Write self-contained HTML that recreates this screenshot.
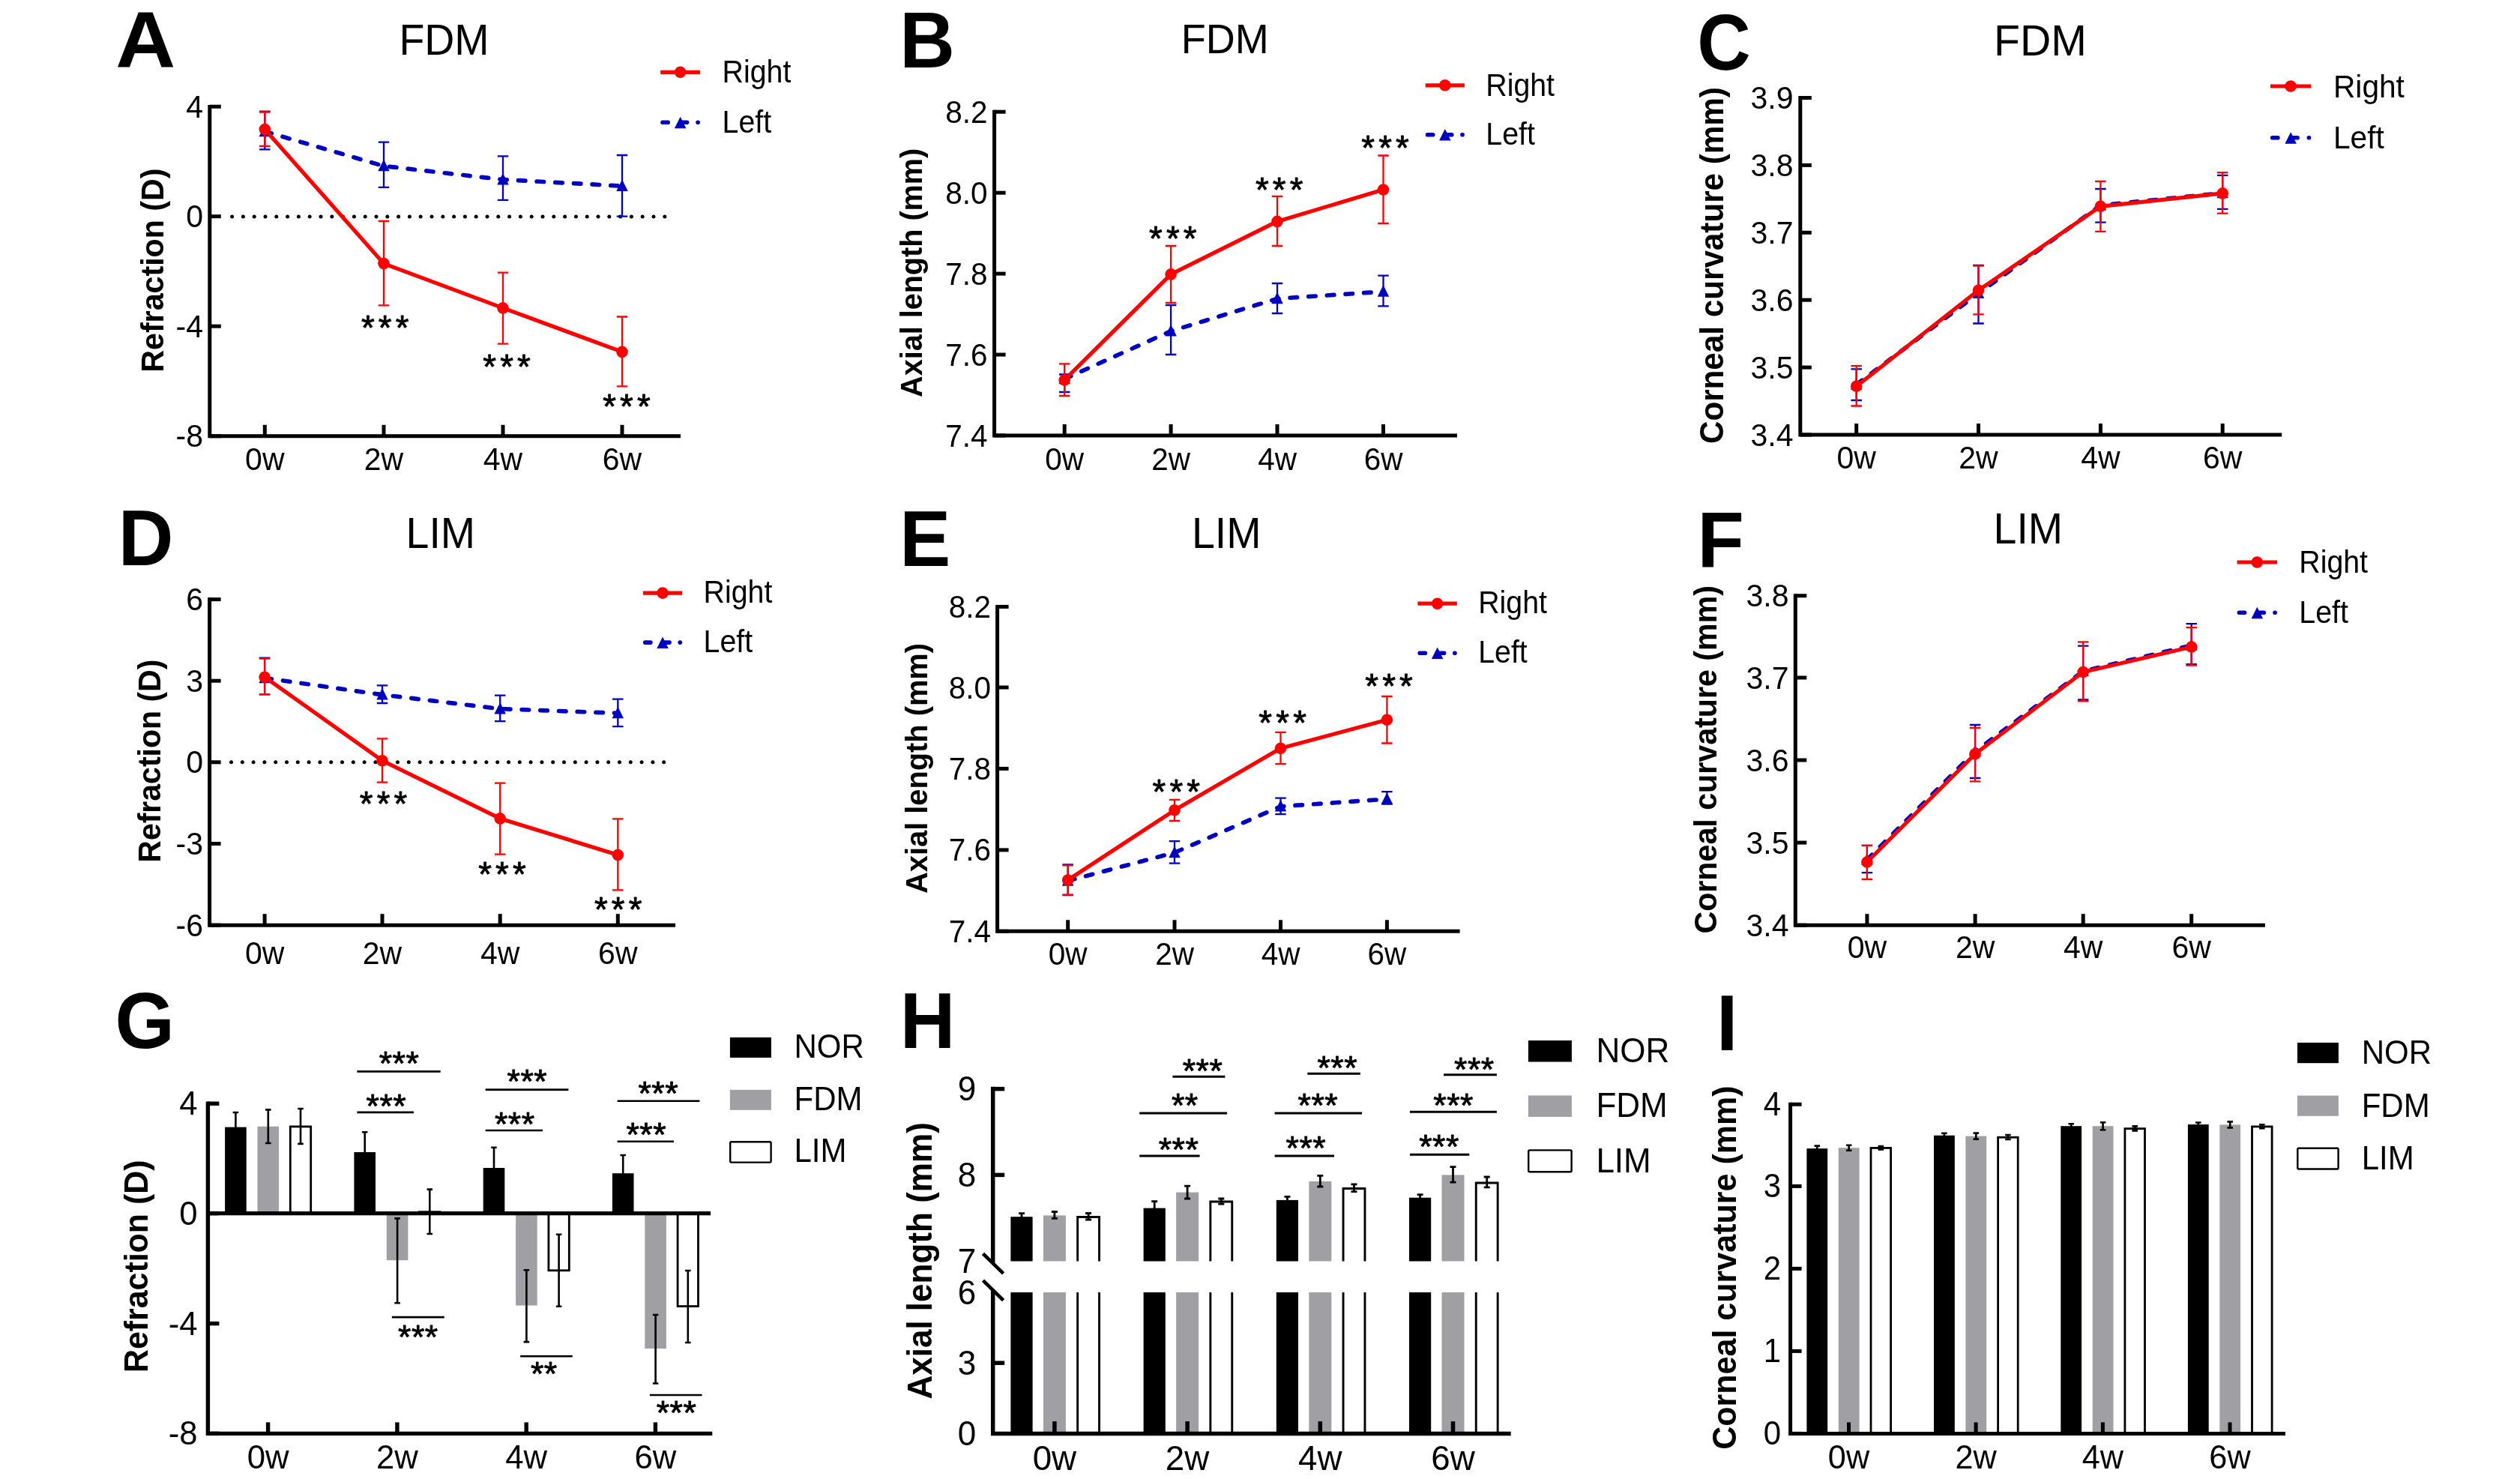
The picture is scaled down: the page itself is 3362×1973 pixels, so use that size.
<!DOCTYPE html>
<html lang="en">
<head>
<meta charset="utf-8">
<title>Refraction, axial length and corneal curvature in FDM and LIM</title>
<style>
html,body{margin:0;padding:0;background:#fff;}
body{width:3362px;height:1973px;overflow:hidden;}
svg{display:block;will-change:transform;font-family:"Liberation Sans",sans-serif;fill:#000;}
</style>
</head>
<body>
<svg xmlns="http://www.w3.org/2000/svg" width="3362" height="1973" viewBox="0 0 3362 1973">
<rect x="0" y="0" width="3362" height="1973" fill="#fff"/>
<g>
<text transform="translate(154.3,90.3) scale(1.09,1.04)" font-size="101.5" font-weight="bold">A</text>
<text transform="translate(592.5,72.6) scale(1,1.04)" font-size="55.5" text-anchor="middle">FDM</text>
<path d="M279.8 140.1V581.8H908" stroke="#000" stroke-width="5" fill="none" stroke-linejoin="miter"/>
<line x1="279.8" y1="142.2" x2="294.8" y2="142.2" stroke="#000" stroke-width="5"/>
<text transform="translate(271,156.88) scale(1,1.04)" font-size="41" text-anchor="end">4</text>
<line x1="279.8" y1="288.7" x2="294.8" y2="288.7" stroke="#000" stroke-width="5"/>
<text transform="translate(271,303.38) scale(1,1.04)" font-size="41" text-anchor="end">0</text>
<line x1="279.8" y1="435.2" x2="294.8" y2="435.2" stroke="#000" stroke-width="5"/>
<text transform="translate(271,449.88) scale(1,1.04)" font-size="41" text-anchor="end">-4</text>
<line x1="279.8" y1="581.8" x2="294.8" y2="581.8" stroke="#000" stroke-width="5"/>
<text transform="translate(271,596.48) scale(1,1.04)" font-size="41" text-anchor="end">-8</text>
<line x1="353.3" y1="581.8" x2="353.3" y2="566.8" stroke="#000" stroke-width="5"/>
<text transform="translate(353.3,627.3) scale(1,1.04)" font-size="41" text-anchor="middle">0w</text>
<line x1="512" y1="581.8" x2="512" y2="566.8" stroke="#000" stroke-width="5"/>
<text transform="translate(512,627.3) scale(1,1.04)" font-size="41" text-anchor="middle">2w</text>
<line x1="671" y1="581.8" x2="671" y2="566.8" stroke="#000" stroke-width="5"/>
<text transform="translate(671,627.3) scale(1,1.04)" font-size="41" text-anchor="middle">4w</text>
<line x1="830" y1="581.8" x2="830" y2="566.8" stroke="#000" stroke-width="5"/>
<text transform="translate(830,627.3) scale(1,1.04)" font-size="41" text-anchor="middle">6w</text>
<text transform="translate(218.4,360.6) rotate(-90) scale(1,1.04)" font-size="41.2" text-anchor="middle" font-weight="bold">Refraction (D)</text>
<line x1="309.6" y1="288.9" x2="896" y2="288.9" stroke="#000" stroke-width="5" stroke-linecap="round" stroke-dasharray="0 14.8"/>
<path d="M353.3 148.7V199.3M346.05 148.7h14.5M346.05 199.3h14.5" stroke="#0000c0" stroke-width="2.3" fill="none"/>
<path d="M512 189.6V249.9M504.75 189.6h14.5M504.75 249.9h14.5" stroke="#0000c0" stroke-width="2.3" fill="none"/>
<path d="M671 208.4V266.8M663.75 208.4h14.5M663.75 266.8h14.5" stroke="#0000c0" stroke-width="2.3" fill="none"/>
<path d="M830 207V288.7M822.75 207h14.5M822.75 288.7h14.5" stroke="#0000c0" stroke-width="2.3" fill="none"/>
<polyline points="353.3,175.4 512,221.5 671,239.6 830,248.1" fill="none" stroke="#0000c0" stroke-width="5.7" stroke-dasharray="9.4 15.3" stroke-linecap="round" stroke-linejoin="round"/>
<path d="M353.3 166.72L361.05 182.22L345.55 182.22Z" fill="#0000c0"/>
<path d="M512 212.82L519.75 228.32L504.25 228.32Z" fill="#0000c0"/>
<path d="M671 230.92L678.75 246.42L663.25 246.42Z" fill="#0000c0"/>
<path d="M830 239.42L837.75 254.92L822.25 254.92Z" fill="#0000c0"/>
<path d="M353.3 149.5V195M346.05 149.5h14.5M346.05 195h14.5" stroke="#ff0000" stroke-width="2.3" fill="none"/>
<path d="M512 295V407.4M504.75 295h14.5M504.75 407.4h14.5" stroke="#ff0000" stroke-width="2.3" fill="none"/>
<path d="M671 363.6V458.7M663.75 363.6h14.5M663.75 458.7h14.5" stroke="#ff0000" stroke-width="2.3" fill="none"/>
<path d="M830 422.5V515.3M822.75 422.5h14.5M822.75 515.3h14.5" stroke="#ff0000" stroke-width="2.3" fill="none"/>
<polyline points="353.3,172.5 512,351.6 671,410.9 830,469.4" fill="none" stroke="#ff0000" stroke-width="5.2" stroke-linejoin="round"/>
<circle cx="353.3" cy="172.5" r="7.8" fill="#ff0000"/>
<circle cx="512" cy="351.6" r="7.8" fill="#ff0000"/>
<circle cx="671" cy="410.9" r="7.8" fill="#ff0000"/>
<circle cx="830" cy="469.4" r="7.8" fill="#ff0000"/>
<text transform="translate(516.3,452.82) scale(1,1)" font-size="45.5" text-anchor="middle" letter-spacing="5.2" stroke="#000" stroke-width="0.9" stroke-linejoin="round">***</text>
<text transform="translate(678.6,504.72) scale(1,1)" font-size="45.5" text-anchor="middle" letter-spacing="5.2" stroke="#000" stroke-width="0.9" stroke-linejoin="round">***</text>
<text transform="translate(838.5,558.32) scale(1,1)" font-size="45.5" text-anchor="middle" letter-spacing="5.2" stroke="#000" stroke-width="0.9" stroke-linejoin="round">***</text>
<line x1="881.2" y1="96.3" x2="934" y2="96.3" stroke="#ff0000" stroke-width="5.2"/>
<circle cx="907.6" cy="96.3" r="7.8" fill="#ff0000"/>
<text transform="translate(963.6,109.6) scale(0.97,1.04)" font-size="40.5">Right</text>
<path d="M884 163.3h7.2M910.6 163.3h6M931 163.3h0.2" stroke="#0000c0" stroke-width="5.6" stroke-linecap="round" fill="none"/>
<path d="M907.6 155.72L915.35 171.22L899.85 171.22Z" fill="#0000c0"/>
<text transform="translate(963.6,176.6) scale(0.97,1.04)" font-size="40.5">Left</text>
</g>
<g>
<text transform="translate(1200.2,90) scale(1,1.04)" font-size="102" font-weight="bold">B</text>
<text transform="translate(1634.3,71.4) scale(1,1.04)" font-size="54" text-anchor="middle">FDM</text>
<path d="M1326.6 146.7V581H1944" stroke="#000" stroke-width="5" fill="none" stroke-linejoin="miter"/>
<line x1="1326.6" y1="149.2" x2="1341.6" y2="149.2" stroke="#000" stroke-width="5"/>
<text transform="translate(1317.5,163.7) scale(1,1.04)" font-size="40.5" text-anchor="end">8.2</text>
<line x1="1326.6" y1="257.2" x2="1341.6" y2="257.2" stroke="#000" stroke-width="5"/>
<text transform="translate(1317.5,271.7) scale(1,1.04)" font-size="40.5" text-anchor="end">8.0</text>
<line x1="1326.6" y1="365.1" x2="1341.6" y2="365.1" stroke="#000" stroke-width="5"/>
<text transform="translate(1317.5,379.6) scale(1,1.04)" font-size="40.5" text-anchor="end">7.8</text>
<line x1="1326.6" y1="473.1" x2="1341.6" y2="473.1" stroke="#000" stroke-width="5"/>
<text transform="translate(1317.5,487.6) scale(1,1.04)" font-size="40.5" text-anchor="end">7.6</text>
<line x1="1326.6" y1="581" x2="1341.6" y2="581" stroke="#000" stroke-width="5"/>
<text transform="translate(1317.5,595.5) scale(1,1.04)" font-size="40.5" text-anchor="end">7.4</text>
<line x1="1420.2" y1="581" x2="1420.2" y2="566" stroke="#000" stroke-width="5"/>
<text transform="translate(1420.2,627) scale(1,1.04)" font-size="40.5" text-anchor="middle">0w</text>
<line x1="1562.1" y1="581" x2="1562.1" y2="566" stroke="#000" stroke-width="5"/>
<text transform="translate(1562.1,627) scale(1,1.04)" font-size="40.5" text-anchor="middle">2w</text>
<line x1="1704" y1="581" x2="1704" y2="566" stroke="#000" stroke-width="5"/>
<text transform="translate(1704,627) scale(1,1.04)" font-size="40.5" text-anchor="middle">4w</text>
<line x1="1845.5" y1="581" x2="1845.5" y2="566" stroke="#000" stroke-width="5"/>
<text transform="translate(1845.5,627) scale(1,1.04)" font-size="40.5" text-anchor="middle">6w</text>
<text transform="translate(1230.4,363.9) rotate(-90) scale(1,1.04)" font-size="39.6" text-anchor="middle" font-weight="bold">Axial length (mm)</text>
<path d="M1420.2 499.5V523M1412.95 499.5h14.5M1412.95 523h14.5" stroke="#0000c0" stroke-width="2.3" fill="none"/>
<path d="M1562.1 407V473M1554.85 407h14.5M1554.85 473h14.5" stroke="#0000c0" stroke-width="2.3" fill="none"/>
<path d="M1704 378V418M1696.75 378h14.5M1696.75 418h14.5" stroke="#0000c0" stroke-width="2.3" fill="none"/>
<path d="M1845.5 367.7V408.3M1838.25 367.7h14.5M1838.25 408.3h14.5" stroke="#0000c0" stroke-width="2.3" fill="none"/>
<polyline points="1420.2,505.5 1562.1,441.7 1704,398.4 1845.5,389" fill="none" stroke="#0000c0" stroke-width="5.7" stroke-dasharray="9.4 15.3" stroke-linecap="round" stroke-linejoin="round"/>
<path d="M1420.2 496.82L1427.95 512.32L1412.45 512.32Z" fill="#0000c0"/>
<path d="M1562.1 433.02L1569.85 448.52L1554.35 448.52Z" fill="#0000c0"/>
<path d="M1704 389.72L1711.75 405.22L1696.25 405.22Z" fill="#0000c0"/>
<path d="M1845.5 380.32L1853.25 395.82L1837.75 395.82Z" fill="#0000c0"/>
<path d="M1420.2 485.3V528M1412.95 485.3h14.5M1412.95 528h14.5" stroke="#ff0000" stroke-width="2.3" fill="none"/>
<path d="M1562.1 328V403.8M1554.85 328h14.5M1554.85 403.8h14.5" stroke="#ff0000" stroke-width="2.3" fill="none"/>
<path d="M1704 261.9V328M1696.75 261.9h14.5M1696.75 328h14.5" stroke="#ff0000" stroke-width="2.3" fill="none"/>
<path d="M1845.5 207.5V298M1838.25 207.5h14.5M1838.25 298h14.5" stroke="#ff0000" stroke-width="2.3" fill="none"/>
<polyline points="1420.2,506.9 1562.1,365.9 1704,295.4 1845.5,253" fill="none" stroke="#ff0000" stroke-width="5.2" stroke-linejoin="round"/>
<circle cx="1420.2" cy="506.9" r="7.8" fill="#ff0000"/>
<circle cx="1562.1" cy="365.9" r="7.8" fill="#ff0000"/>
<circle cx="1704" cy="295.4" r="7.8" fill="#ff0000"/>
<circle cx="1845.5" cy="253" r="7.8" fill="#ff0000"/>
<text transform="translate(1567.4,334.32) scale(1,1)" font-size="45.5" text-anchor="middle" letter-spacing="5.2" stroke="#000" stroke-width="0.9" stroke-linejoin="round">***</text>
<text transform="translate(1709.3,268.72) scale(1,1)" font-size="45.5" text-anchor="middle" letter-spacing="5.2" stroke="#000" stroke-width="0.9" stroke-linejoin="round">***</text>
<text transform="translate(1850.6,212.92) scale(1,1)" font-size="45.5" text-anchor="middle" letter-spacing="5.2" stroke="#000" stroke-width="0.9" stroke-linejoin="round">***</text>
<line x1="1901.7" y1="113.8" x2="1953.9" y2="113.8" stroke="#ff0000" stroke-width="5.2"/>
<circle cx="1927.8" cy="113.8" r="7.8" fill="#ff0000"/>
<text transform="translate(1982.3,127.5) scale(0.97,1.04)" font-size="40.5">Right</text>
<path d="M1904.5 179.7h7.2M1930.8 179.7h6M1950.9 179.7h0.2" stroke="#0000c0" stroke-width="5.6" stroke-linecap="round" fill="none"/>
<path d="M1927.8 172.12L1935.55 187.62L1920.05 187.62Z" fill="#0000c0"/>
<text transform="translate(1982.3,193.4) scale(0.97,1.04)" font-size="40.5">Left</text>
</g>
<g>
<text transform="translate(2264.2,92.5) scale(0.97,1.04)" font-size="102" font-weight="bold">C</text>
<text transform="translate(2722,74.3) scale(1.03,1.04)" font-size="55.5" text-anchor="middle">FDM</text>
<path d="M2401.8 128V580H3044.2" stroke="#000" stroke-width="5" fill="none" stroke-linejoin="miter"/>
<line x1="2401.8" y1="130.5" x2="2416.8" y2="130.5" stroke="#000" stroke-width="5"/>
<text transform="translate(2392.5,145.18) scale(1,1.04)" font-size="41" text-anchor="end">3.9</text>
<line x1="2401.8" y1="220.4" x2="2416.8" y2="220.4" stroke="#000" stroke-width="5"/>
<text transform="translate(2392.5,235.08) scale(1,1.04)" font-size="41" text-anchor="end">3.8</text>
<line x1="2401.8" y1="310.3" x2="2416.8" y2="310.3" stroke="#000" stroke-width="5"/>
<text transform="translate(2392.5,324.98) scale(1,1.04)" font-size="41" text-anchor="end">3.7</text>
<line x1="2401.8" y1="400.2" x2="2416.8" y2="400.2" stroke="#000" stroke-width="5"/>
<text transform="translate(2392.5,414.88) scale(1,1.04)" font-size="41" text-anchor="end">3.6</text>
<line x1="2401.8" y1="490.1" x2="2416.8" y2="490.1" stroke="#000" stroke-width="5"/>
<text transform="translate(2392.5,504.78) scale(1,1.04)" font-size="41" text-anchor="end">3.5</text>
<line x1="2401.8" y1="580" x2="2416.8" y2="580" stroke="#000" stroke-width="5"/>
<text transform="translate(2392.5,594.68) scale(1,1.04)" font-size="41" text-anchor="end">3.4</text>
<line x1="2476.7" y1="580" x2="2476.7" y2="565" stroke="#000" stroke-width="5"/>
<text transform="translate(2476.7,624.7) scale(1,1.04)" font-size="41" text-anchor="middle">0w</text>
<line x1="2639.5" y1="580" x2="2639.5" y2="565" stroke="#000" stroke-width="5"/>
<text transform="translate(2639.5,624.7) scale(1,1.04)" font-size="41" text-anchor="middle">2w</text>
<line x1="2802.4" y1="580" x2="2802.4" y2="565" stroke="#000" stroke-width="5"/>
<text transform="translate(2802.4,624.7) scale(1,1.04)" font-size="41" text-anchor="middle">4w</text>
<line x1="2965.2" y1="580" x2="2965.2" y2="565" stroke="#000" stroke-width="5"/>
<text transform="translate(2965.2,624.7) scale(1,1.04)" font-size="41" text-anchor="middle">6w</text>
<text transform="translate(2298.5,354.1) rotate(-90) scale(1,1.04)" font-size="42.2" text-anchor="middle" font-weight="bold">Corneal curvature (mm)</text>
<path d="M2476.7 492.4V534M2469.45 492.4h14.5M2469.45 534h14.5" stroke="#0000c0" stroke-width="2.3" fill="none"/>
<path d="M2639.5 353.8V431.5M2632.25 353.8h14.5M2632.25 431.5h14.5" stroke="#0000c0" stroke-width="2.3" fill="none"/>
<path d="M2802.4 252V296.7M2795.15 252h14.5M2795.15 296.7h14.5" stroke="#0000c0" stroke-width="2.3" fill="none"/>
<path d="M2965.2 233.8V278.9M2957.95 233.8h14.5M2957.95 278.9h14.5" stroke="#0000c0" stroke-width="2.3" fill="none"/>
<polyline points="2476.7,513 2639.5,391.3 2802.4,274 2965.2,257.5" fill="none" stroke="#0000c0" stroke-width="5.7" stroke-dasharray="9.4 15.3" stroke-linecap="round" stroke-linejoin="round"/>
<path d="M2476.7 504.32L2484.45 519.82L2468.95 519.82Z" fill="#0000c0"/>
<path d="M2639.5 382.62L2647.25 398.12L2631.75 398.12Z" fill="#0000c0"/>
<path d="M2802.4 265.32L2810.15 280.82L2794.65 280.82Z" fill="#0000c0"/>
<path d="M2965.2 248.82L2972.95 264.32L2957.45 264.32Z" fill="#0000c0"/>
<path d="M2476.7 488.2V541.5M2469.45 488.2h14.5M2469.45 541.5h14.5" stroke="#ff0000" stroke-width="2.3" fill="none"/>
<path d="M2639.5 354.7V419.4M2632.25 354.7h14.5M2632.25 419.4h14.5" stroke="#ff0000" stroke-width="2.3" fill="none"/>
<path d="M2802.4 241.8V308.8M2795.15 241.8h14.5M2795.15 308.8h14.5" stroke="#ff0000" stroke-width="2.3" fill="none"/>
<path d="M2965.2 230.2V284.7M2957.95 230.2h14.5M2957.95 284.7h14.5" stroke="#ff0000" stroke-width="2.3" fill="none"/>
<polyline points="2476.7,515.3 2639.5,387.3 2802.4,275.3 2965.2,257.9" fill="none" stroke="#ff0000" stroke-width="5.2" stroke-linejoin="round"/>
<circle cx="2476.7" cy="515.3" r="7.8" fill="#ff0000"/>
<circle cx="2639.5" cy="387.3" r="7.8" fill="#ff0000"/>
<circle cx="2802.4" cy="275.3" r="7.8" fill="#ff0000"/>
<circle cx="2965.2" cy="257.9" r="7.8" fill="#ff0000"/>
<line x1="3028.9" y1="115" x2="3083.3" y2="115" stroke="#ff0000" stroke-width="5.2"/>
<circle cx="3056.1" cy="115" r="7.8" fill="#ff0000"/>
<text transform="translate(3113,129.5) scale(0.98,1.04)" font-size="41.5">Right</text>
<path d="M3031.7 183.8h7.2M3059.1 183.8h6M3080.3 183.8h0.2" stroke="#0000c0" stroke-width="5.6" stroke-linecap="round" fill="none"/>
<path d="M3056.1 176.22L3063.85 191.72L3048.35 191.72Z" fill="#0000c0"/>
<text transform="translate(3113,198.3) scale(0.98,1.04)" font-size="41.5">Left</text>
</g>
<g>
<text transform="translate(157.7,754) scale(1,1.04)" font-size="102" font-weight="bold">D</text>
<text transform="translate(587.8,731.4) scale(1,1.04)" font-size="55.5" text-anchor="middle">LIM</text>
<path d="M279.6 797.1V1234.2H901" stroke="#000" stroke-width="5" fill="none" stroke-linejoin="miter"/>
<line x1="279.6" y1="799.6" x2="294.6" y2="799.6" stroke="#000" stroke-width="5"/>
<text transform="translate(271,814.28) scale(1,1.04)" font-size="41" text-anchor="end">6</text>
<line x1="279.6" y1="908.2" x2="294.6" y2="908.2" stroke="#000" stroke-width="5"/>
<text transform="translate(271,922.88) scale(1,1.04)" font-size="41" text-anchor="end">3</text>
<line x1="279.6" y1="1016.8" x2="294.6" y2="1016.8" stroke="#000" stroke-width="5"/>
<text transform="translate(271,1031.48) scale(1,1.04)" font-size="41" text-anchor="end">0</text>
<line x1="279.6" y1="1125.5" x2="294.6" y2="1125.5" stroke="#000" stroke-width="5"/>
<text transform="translate(271,1140.18) scale(1,1.04)" font-size="41" text-anchor="end">-3</text>
<line x1="279.6" y1="1234.2" x2="294.6" y2="1234.2" stroke="#000" stroke-width="5"/>
<text transform="translate(271,1248.88) scale(1,1.04)" font-size="41" text-anchor="end">-6</text>
<line x1="353.1" y1="1234.2" x2="353.1" y2="1219.2" stroke="#000" stroke-width="5"/>
<text transform="translate(353.1,1285.6) scale(1,1.04)" font-size="41" text-anchor="middle">0w</text>
<line x1="510" y1="1234.2" x2="510" y2="1219.2" stroke="#000" stroke-width="5"/>
<text transform="translate(510,1285.6) scale(1,1.04)" font-size="41" text-anchor="middle">2w</text>
<line x1="667.2" y1="1234.2" x2="667.2" y2="1219.2" stroke="#000" stroke-width="5"/>
<text transform="translate(667.2,1285.6) scale(1,1.04)" font-size="41" text-anchor="middle">4w</text>
<line x1="824.3" y1="1234.2" x2="824.3" y2="1219.2" stroke="#000" stroke-width="5"/>
<text transform="translate(824.3,1285.6) scale(1,1.04)" font-size="41" text-anchor="middle">6w</text>
<text transform="translate(213.8,1015.2) rotate(-90) scale(1,1.04)" font-size="41" text-anchor="middle" font-weight="bold">Refraction (D)</text>
<line x1="308.5" y1="1016.8" x2="888" y2="1016.8" stroke="#000" stroke-width="5" stroke-linecap="round" stroke-dasharray="0 14.8"/>
<path d="M353.1 877.7V926.4M345.85 877.7h14.5M345.85 926.4h14.5" stroke="#0000c0" stroke-width="2.3" fill="none"/>
<path d="M510 914.3V938M502.75 914.3h14.5M502.75 938h14.5" stroke="#0000c0" stroke-width="2.3" fill="none"/>
<path d="M667.2 927.7V962.1M659.95 927.7h14.5M659.95 962.1h14.5" stroke="#0000c0" stroke-width="2.3" fill="none"/>
<path d="M824.3 932.6V969.2M817.05 932.6h14.5M817.05 969.2h14.5" stroke="#0000c0" stroke-width="2.3" fill="none"/>
<polyline points="353.1,904.5 510,926.8 667.2,945.6 824.3,951.4" fill="none" stroke="#0000c0" stroke-width="5.7" stroke-dasharray="9.4 15.3" stroke-linecap="round" stroke-linejoin="round"/>
<path d="M353.1 895.82L360.85 911.32L345.35 911.32Z" fill="#0000c0"/>
<path d="M510 918.12L517.75 933.62L502.25 933.62Z" fill="#0000c0"/>
<path d="M667.2 936.92L674.95 952.42L659.45 952.42Z" fill="#0000c0"/>
<path d="M824.3 942.72L832.05 958.22L816.55 958.22Z" fill="#0000c0"/>
<path d="M353.1 878.6V926.4M345.85 878.6h14.5M345.85 926.4h14.5" stroke="#ff0000" stroke-width="2.3" fill="none"/>
<path d="M510 985.3V1043.7M502.75 985.3h14.5M502.75 1043.7h14.5" stroke="#ff0000" stroke-width="2.3" fill="none"/>
<path d="M667.2 1044.6V1139.7M659.95 1044.6h14.5M659.95 1139.7h14.5" stroke="#ff0000" stroke-width="2.3" fill="none"/>
<path d="M824.3 1092.4V1187.4M817.05 1092.4h14.5M817.05 1187.4h14.5" stroke="#ff0000" stroke-width="2.3" fill="none"/>
<polyline points="353.1,903.2 510,1014.7 667.2,1091.9 824.3,1140.5" fill="none" stroke="#ff0000" stroke-width="5.2" stroke-linejoin="round"/>
<circle cx="353.1" cy="903.2" r="7.8" fill="#ff0000"/>
<circle cx="510" cy="1014.7" r="7.8" fill="#ff0000"/>
<circle cx="667.2" cy="1091.9" r="7.8" fill="#ff0000"/>
<circle cx="824.3" cy="1140.5" r="7.8" fill="#ff0000"/>
<text transform="translate(514.1,1088.42) scale(1,1)" font-size="45.5" text-anchor="middle" letter-spacing="5.2" stroke="#000" stroke-width="0.9" stroke-linejoin="round">***</text>
<text transform="translate(672.5,1182.12) scale(1,1)" font-size="45.5" text-anchor="middle" letter-spacing="5.2" stroke="#000" stroke-width="0.9" stroke-linejoin="round">***</text>
<text transform="translate(827.3,1228.52) scale(1,1)" font-size="45.5" text-anchor="middle" letter-spacing="5.2" stroke="#000" stroke-width="0.9" stroke-linejoin="round">***</text>
<line x1="857.9" y1="791.1" x2="910.2" y2="791.1" stroke="#ff0000" stroke-width="5.2"/>
<circle cx="884.05" cy="791.1" r="7.8" fill="#ff0000"/>
<text transform="translate(938.6,804.4) scale(0.97,1.04)" font-size="40.5">Right</text>
<path d="M860.7 857.1h7.2M887.05 857.1h6M907.2 857.1h0.2" stroke="#0000c0" stroke-width="5.6" stroke-linecap="round" fill="none"/>
<path d="M884.05 849.52L891.8 865.02L876.3 865.02Z" fill="#0000c0"/>
<text transform="translate(938.6,870.4) scale(0.97,1.04)" font-size="40.5">Left</text>
</g>
<g>
<text transform="translate(1200.3,754.5) scale(1,1.04)" font-size="102" font-weight="bold">E</text>
<text transform="translate(1636.2,731.4) scale(1,1.04)" font-size="55.5" text-anchor="middle">LIM</text>
<path d="M1330.6 806.9V1242.3H1947.6" stroke="#000" stroke-width="5" fill="none" stroke-linejoin="miter"/>
<line x1="1330.6" y1="809.4" x2="1345.6" y2="809.4" stroke="#000" stroke-width="5"/>
<text transform="translate(1322,823.9) scale(1,1.04)" font-size="40.5" text-anchor="end">8.2</text>
<line x1="1330.6" y1="917" x2="1345.6" y2="917" stroke="#000" stroke-width="5"/>
<text transform="translate(1322,931.5) scale(1,1.04)" font-size="40.5" text-anchor="end">8.0</text>
<line x1="1330.6" y1="1025.4" x2="1345.6" y2="1025.4" stroke="#000" stroke-width="5"/>
<text transform="translate(1322,1039.9) scale(1,1.04)" font-size="40.5" text-anchor="end">7.8</text>
<line x1="1330.6" y1="1133.9" x2="1345.6" y2="1133.9" stroke="#000" stroke-width="5"/>
<text transform="translate(1322,1148.4) scale(1,1.04)" font-size="40.5" text-anchor="end">7.6</text>
<line x1="1330.6" y1="1242.3" x2="1345.6" y2="1242.3" stroke="#000" stroke-width="5"/>
<text transform="translate(1322,1256.8) scale(1,1.04)" font-size="40.5" text-anchor="end">7.4</text>
<line x1="1424.7" y1="1242.3" x2="1424.7" y2="1227.3" stroke="#000" stroke-width="5"/>
<text transform="translate(1424.7,1287) scale(1,1.04)" font-size="40.5" text-anchor="middle">0w</text>
<line x1="1567" y1="1242.3" x2="1567" y2="1227.3" stroke="#000" stroke-width="5"/>
<text transform="translate(1567,1287) scale(1,1.04)" font-size="40.5" text-anchor="middle">2w</text>
<line x1="1708.5" y1="1242.3" x2="1708.5" y2="1227.3" stroke="#000" stroke-width="5"/>
<text transform="translate(1708.5,1287) scale(1,1.04)" font-size="40.5" text-anchor="middle">4w</text>
<line x1="1850.4" y1="1242.3" x2="1850.4" y2="1227.3" stroke="#000" stroke-width="5"/>
<text transform="translate(1850.4,1287) scale(1,1.04)" font-size="40.5" text-anchor="middle">6w</text>
<text transform="translate(1236.9,1025) rotate(-90) scale(1,1.04)" font-size="39.8" text-anchor="middle" font-weight="bold">Axial length (mm)</text>
<path d="M1424.7 1153.5V1194M1417.45 1153.5h14.5M1417.45 1194h14.5" stroke="#0000c0" stroke-width="2.3" fill="none"/>
<path d="M1567 1122.2V1151.7M1559.75 1122.2h14.5M1559.75 1151.7h14.5" stroke="#0000c0" stroke-width="2.3" fill="none"/>
<path d="M1708.5 1064.7V1086.1M1701.25 1064.7h14.5M1701.25 1086.1h14.5" stroke="#0000c0" stroke-width="2.3" fill="none"/>
<path d="M1850.4 1056.2V1072.7M1843.15 1056.2h14.5M1843.15 1072.7h14.5" stroke="#0000c0" stroke-width="2.3" fill="none"/>
<polyline points="1424.7,1175 1567,1137.4 1708.5,1075.8 1850.4,1066" fill="none" stroke="#0000c0" stroke-width="5.7" stroke-dasharray="9.4 15.3" stroke-linecap="round" stroke-linejoin="round"/>
<path d="M1424.7 1166.32L1432.45 1181.82L1416.95 1181.82Z" fill="#0000c0"/>
<path d="M1567 1128.72L1574.75 1144.22L1559.25 1144.22Z" fill="#0000c0"/>
<path d="M1708.5 1067.12L1716.25 1082.62L1700.75 1082.62Z" fill="#0000c0"/>
<path d="M1850.4 1057.32L1858.15 1072.82L1842.65 1072.82Z" fill="#0000c0"/>
<path d="M1424.7 1154.4V1193.6M1417.45 1154.4h14.5M1417.45 1193.6h14.5" stroke="#ff0000" stroke-width="2.3" fill="none"/>
<path d="M1567 1066.9V1095M1559.75 1066.9h14.5M1559.75 1095h14.5" stroke="#ff0000" stroke-width="2.3" fill="none"/>
<path d="M1708.5 976.8V1019.2M1701.25 976.8h14.5M1701.25 1019.2h14.5" stroke="#ff0000" stroke-width="2.3" fill="none"/>
<path d="M1850.4 929V991.5M1843.15 929h14.5M1843.15 991.5h14.5" stroke="#ff0000" stroke-width="2.3" fill="none"/>
<polyline points="1424.7,1174 1567,1080.8 1708.5,998.2 1850.4,960.3" fill="none" stroke="#ff0000" stroke-width="5.2" stroke-linejoin="round"/>
<circle cx="1424.7" cy="1174" r="7.8" fill="#ff0000"/>
<circle cx="1567" cy="1080.8" r="7.8" fill="#ff0000"/>
<circle cx="1708.5" cy="998.2" r="7.8" fill="#ff0000"/>
<circle cx="1850.4" cy="960.3" r="7.8" fill="#ff0000"/>
<text transform="translate(1571.9,1071.52) scale(1,1)" font-size="45.5" text-anchor="middle" letter-spacing="5.2" stroke="#000" stroke-width="0.9" stroke-linejoin="round">***</text>
<text transform="translate(1713.7,980.02) scale(1,1)" font-size="45.5" text-anchor="middle" letter-spacing="5.2" stroke="#000" stroke-width="0.9" stroke-linejoin="round">***</text>
<text transform="translate(1855.6,930.92) scale(1,1)" font-size="45.5" text-anchor="middle" letter-spacing="5.2" stroke="#000" stroke-width="0.9" stroke-linejoin="round">***</text>
<line x1="1891.4" y1="805.2" x2="1943.8" y2="805.2" stroke="#ff0000" stroke-width="5.2"/>
<circle cx="1917.6" cy="805.2" r="7.8" fill="#ff0000"/>
<text transform="translate(1972.2,818.2) scale(0.97,1.04)" font-size="40.5">Right</text>
<path d="M1894.2 871.2h7.2M1920.6 871.2h6M1940.8 871.2h0.2" stroke="#0000c0" stroke-width="5.6" stroke-linecap="round" fill="none"/>
<path d="M1917.6 863.62L1925.35 879.12L1909.85 879.12Z" fill="#0000c0"/>
<text transform="translate(1972.2,884.2) scale(0.97,1.04)" font-size="40.5">Left</text>
</g>
<g>
<text transform="translate(2264.6,757.1) scale(1,1.04)" font-size="102" font-weight="bold">F</text>
<text transform="translate(2705.8,724.7) scale(1,1.04)" font-size="55.5" text-anchor="middle">LIM</text>
<path d="M2395.3 792.2V1234.2H3021.9" stroke="#000" stroke-width="5" fill="none" stroke-linejoin="miter"/>
<line x1="2395.3" y1="794.7" x2="2410.3" y2="794.7" stroke="#000" stroke-width="5"/>
<text transform="translate(2386.5,809.38) scale(1,1.04)" font-size="41" text-anchor="end">3.8</text>
<line x1="2395.3" y1="904" x2="2410.3" y2="904" stroke="#000" stroke-width="5"/>
<text transform="translate(2386.5,918.68) scale(1,1.04)" font-size="41" text-anchor="end">3.7</text>
<line x1="2395.3" y1="1014" x2="2410.3" y2="1014" stroke="#000" stroke-width="5"/>
<text transform="translate(2386.5,1028.68) scale(1,1.04)" font-size="41" text-anchor="end">3.6</text>
<line x1="2395.3" y1="1124.1" x2="2410.3" y2="1124.1" stroke="#000" stroke-width="5"/>
<text transform="translate(2386.5,1138.78) scale(1,1.04)" font-size="41" text-anchor="end">3.5</text>
<line x1="2395.3" y1="1234.2" x2="2410.3" y2="1234.2" stroke="#000" stroke-width="5"/>
<text transform="translate(2386.5,1248.88) scale(1,1.04)" font-size="41" text-anchor="end">3.4</text>
<line x1="2490.9" y1="1234.2" x2="2490.9" y2="1219.2" stroke="#000" stroke-width="5"/>
<text transform="translate(2490.9,1278) scale(1,1.04)" font-size="41" text-anchor="middle">0w</text>
<line x1="2635.1" y1="1234.2" x2="2635.1" y2="1219.2" stroke="#000" stroke-width="5"/>
<text transform="translate(2635.1,1278) scale(1,1.04)" font-size="41" text-anchor="middle">2w</text>
<line x1="2779.2" y1="1234.2" x2="2779.2" y2="1219.2" stroke="#000" stroke-width="5"/>
<text transform="translate(2779.2,1278) scale(1,1.04)" font-size="41" text-anchor="middle">4w</text>
<line x1="2923.7" y1="1234.2" x2="2923.7" y2="1219.2" stroke="#000" stroke-width="5"/>
<text transform="translate(2923.7,1278) scale(1,1.04)" font-size="41" text-anchor="middle">6w</text>
<text transform="translate(2289.5,1013.3) rotate(-90) scale(1,1.04)" font-size="41.2" text-anchor="middle" font-weight="bold">Corneal curvature (mm)</text>
<path d="M2490.9 1127.8V1164.2M2483.65 1127.8h14.5M2483.65 1164.2h14.5" stroke="#0000c0" stroke-width="2.3" fill="none"/>
<path d="M2635.1 967V1038M2627.85 967h14.5M2627.85 1038h14.5" stroke="#0000c0" stroke-width="2.3" fill="none"/>
<path d="M2779.2 861.7V933.5M2771.95 861.7h14.5M2771.95 933.5h14.5" stroke="#0000c0" stroke-width="2.3" fill="none"/>
<path d="M2923.7 832.2V886.2M2916.45 832.2h14.5M2916.45 886.2h14.5" stroke="#0000c0" stroke-width="2.3" fill="none"/>
<polyline points="2490.9,1147 2635.1,1002.5 2779.2,895.5 2923.7,861" fill="none" stroke="#0000c0" stroke-width="5.7" stroke-dasharray="9.4 15.3" stroke-linecap="round" stroke-linejoin="round"/>
<path d="M2490.9 1138.32L2498.65 1153.82L2483.15 1153.82Z" fill="#0000c0"/>
<path d="M2635.1 993.82L2642.85 1009.32L2627.35 1009.32Z" fill="#0000c0"/>
<path d="M2779.2 886.82L2786.95 902.32L2771.45 902.32Z" fill="#0000c0"/>
<path d="M2923.7 852.32L2931.45 867.82L2915.95 867.82Z" fill="#0000c0"/>
<path d="M2490.9 1127.8V1173M2483.65 1127.8h14.5M2483.65 1173h14.5" stroke="#ff0000" stroke-width="2.3" fill="none"/>
<path d="M2635.1 971V1042.4M2627.85 971h14.5M2627.85 1042.4h14.5" stroke="#ff0000" stroke-width="2.3" fill="none"/>
<path d="M2779.2 856.3V935.3M2771.95 856.3h14.5M2771.95 935.3h14.5" stroke="#ff0000" stroke-width="2.3" fill="none"/>
<path d="M2923.7 837.1V887.6M2916.45 837.1h14.5M2916.45 887.6h14.5" stroke="#ff0000" stroke-width="2.3" fill="none"/>
<polyline points="2490.9,1150 2635.1,1005.8 2779.2,896.5 2923.7,863" fill="none" stroke="#ff0000" stroke-width="5.2" stroke-linejoin="round"/>
<circle cx="2490.9" cy="1150" r="7.8" fill="#ff0000"/>
<circle cx="2635.1" cy="1005.8" r="7.8" fill="#ff0000"/>
<circle cx="2779.2" cy="896.5" r="7.8" fill="#ff0000"/>
<circle cx="2923.7" cy="863" r="7.8" fill="#ff0000"/>
<line x1="2984.6" y1="750" x2="3038" y2="750" stroke="#ff0000" stroke-width="5.2"/>
<circle cx="3011.3" cy="750" r="7.8" fill="#ff0000"/>
<text transform="translate(3067.3,763.7) scale(0.97,1.04)" font-size="40.5">Right</text>
<path d="M2987.4 817.3h7.2M3014.3 817.3h6M3035 817.3h0.2" stroke="#0000c0" stroke-width="5.6" stroke-linecap="round" fill="none"/>
<path d="M3011.3 809.72L3019.05 825.22L3003.55 825.22Z" fill="#0000c0"/>
<text transform="translate(3067.3,831) scale(0.97,1.04)" font-size="40.5">Left</text>
</g>
<g>
<text transform="translate(153.6,1398) scale(1,1.04)" font-size="102" font-weight="bold">G</text>
<rect x="300.1" y="1503.6" width="28.6" height="115" fill="#000"/>
<rect x="343.5" y="1502.7" width="28.6" height="115.9" fill="#a09fa4"/>
<rect x="387.3" y="1502.9" width="27.4" height="116.5" fill="#fff" stroke="#000" stroke-width="2.8"/>
<path d="M314.4 1484V1523M310.65 1484h7.5M310.65 1523h7.5" stroke="#000" stroke-width="2.6" fill="none"/>
<path d="M357.8 1480.4V1525M354.05 1480.4h7.5M354.05 1525h7.5" stroke="#000" stroke-width="2.6" fill="none"/>
<path d="M401 1479V1525.9M397.25 1479h7.5M397.25 1525.9h7.5" stroke="#000" stroke-width="2.6" fill="none"/>
<rect x="472.4" y="1537" width="28.6" height="81.6" fill="#000"/>
<rect x="515.8" y="1618.6" width="28.6" height="62.6" fill="#a09fa4"/>
<rect x="559.6" y="1616.7" width="27.4" height="2.7" fill="#fff" stroke="#000" stroke-width="2.8"/>
<path d="M486.7 1510.3V1563.7M482.95 1510.3h7.5M482.95 1563.7h7.5" stroke="#000" stroke-width="2.6" fill="none"/>
<path d="M530.1 1625.4V1738.3M526.35 1625.4h7.5M526.35 1738.3h7.5" stroke="#000" stroke-width="2.6" fill="none"/>
<path d="M573.3 1586.6V1646M569.55 1586.6h7.5M569.55 1646h7.5" stroke="#000" stroke-width="2.6" fill="none"/>
<rect x="644.7" y="1558" width="28.6" height="60.6" fill="#000"/>
<rect x="688.1" y="1618.6" width="28.6" height="122.9" fill="#a09fa4"/>
<rect x="731.9" y="1617.8" width="27.4" height="77" fill="#fff" stroke="#000" stroke-width="2.8"/>
<path d="M659 1530.8V1585M655.25 1530.8h7.5M655.25 1585h7.5" stroke="#000" stroke-width="2.6" fill="none"/>
<path d="M702.4 1694.2V1790.1M698.65 1694.2h7.5M698.65 1790.1h7.5" stroke="#000" stroke-width="2.6" fill="none"/>
<path d="M745.6 1646.8V1742.8M741.85 1646.8h7.5M741.85 1742.8h7.5" stroke="#000" stroke-width="2.6" fill="none"/>
<rect x="816.9" y="1565.2" width="28.6" height="53.4" fill="#000"/>
<rect x="860.3" y="1618.6" width="28.6" height="180.4" fill="#a09fa4"/>
<rect x="904.1" y="1617.8" width="27.4" height="124.8" fill="#fff" stroke="#000" stroke-width="2.8"/>
<path d="M831.2 1541V1589M827.45 1541h7.5M827.45 1589h7.5" stroke="#000" stroke-width="2.6" fill="none"/>
<path d="M874.6 1754V1845.5M870.85 1754h7.5M870.85 1845.5h7.5" stroke="#000" stroke-width="2.6" fill="none"/>
<path d="M917.8 1695V1791M914.05 1695h7.5M914.05 1791h7.5" stroke="#000" stroke-width="2.6" fill="none"/>
<path d="M277.4 1469.5V1912.4H950.3" stroke="#000" stroke-width="5.4" fill="none" stroke-linejoin="miter"/>
<line x1="277.4" y1="1472.2" x2="292.4" y2="1472.2" stroke="#000" stroke-width="5.4"/>
<text transform="translate(263.5,1487.24) scale(1.04,1.04)" font-size="42" text-anchor="end">4</text>
<line x1="277.4" y1="1618.6" x2="292.4" y2="1618.6" stroke="#000" stroke-width="5.4"/>
<text transform="translate(263.5,1633.64) scale(1.04,1.04)" font-size="42" text-anchor="end">0</text>
<line x1="277.4" y1="1765.6" x2="292.4" y2="1765.6" stroke="#000" stroke-width="5.4"/>
<text transform="translate(263.5,1780.64) scale(1.04,1.04)" font-size="42" text-anchor="end">-4</text>
<line x1="277.4" y1="1912.4" x2="292.4" y2="1912.4" stroke="#000" stroke-width="5.4"/>
<text transform="translate(263.5,1927.44) scale(1.04,1.04)" font-size="42" text-anchor="end">-8</text>
<line x1="357.6" y1="1912.4" x2="357.6" y2="1897.4" stroke="#000" stroke-width="5.4"/>
<text transform="translate(357.6,1958.9) scale(1.04,1.04)" font-size="42" text-anchor="middle">0w</text>
<line x1="529.9" y1="1912.4" x2="529.9" y2="1897.4" stroke="#000" stroke-width="5.4"/>
<text transform="translate(529.9,1958.9) scale(1.04,1.04)" font-size="42" text-anchor="middle">2w</text>
<line x1="702.2" y1="1912.4" x2="702.2" y2="1897.4" stroke="#000" stroke-width="5.4"/>
<text transform="translate(702.2,1958.9) scale(1.04,1.04)" font-size="42" text-anchor="middle">4w</text>
<line x1="874.4" y1="1912.4" x2="874.4" y2="1897.4" stroke="#000" stroke-width="5.4"/>
<text transform="translate(874.4,1958.9) scale(1.04,1.04)" font-size="42" text-anchor="middle">6w</text>
<line x1="277.4" y1="1618.6" x2="948.1" y2="1618.6" stroke="#000" stroke-width="5.4"/>
<text transform="translate(197.4,1689.3) rotate(-90) scale(1,1.04)" font-size="42.9" text-anchor="middle" font-weight="bold">Refraction (D)</text>
<line x1="476.4" y1="1429.4" x2="587.7" y2="1429.4" stroke="#000" stroke-width="2.6"/>
<text transform="translate(532.45,1434.26) scale(1,1)" font-size="44.6" text-anchor="middle" letter-spacing="0.5" stroke="#000" stroke-width="0.9" stroke-linejoin="round">***</text>
<line x1="476.4" y1="1483.9" x2="551.9" y2="1483.9" stroke="#000" stroke-width="2.6"/>
<text transform="translate(515.35,1490.96) scale(1,1)" font-size="44.6" text-anchor="middle" letter-spacing="0.5" stroke="#000" stroke-width="0.9" stroke-linejoin="round">***</text>
<line x1="522.8" y1="1757.1" x2="592.8" y2="1757.1" stroke="#000" stroke-width="2.6"/>
<text transform="translate(557.85,1799.16) scale(1,1)" font-size="44.6" text-anchor="middle" letter-spacing="0.5" stroke="#000" stroke-width="0.9" stroke-linejoin="round">***</text>
<line x1="647.7" y1="1453.6" x2="758.4" y2="1453.6" stroke="#000" stroke-width="2.6"/>
<text transform="translate(703.35,1458.06) scale(1,1)" font-size="44.6" text-anchor="middle" letter-spacing="0.5" stroke="#000" stroke-width="0.9" stroke-linejoin="round">***</text>
<line x1="647.7" y1="1508" x2="724" y2="1508" stroke="#000" stroke-width="2.6"/>
<text transform="translate(686.75,1514.96) scale(1,1)" font-size="44.6" text-anchor="middle" letter-spacing="0.5" stroke="#000" stroke-width="0.9" stroke-linejoin="round">***</text>
<line x1="694.1" y1="1809.3" x2="763.8" y2="1809.3" stroke="#000" stroke-width="2.6"/>
<text transform="translate(725.85,1848.06) scale(1,1)" font-size="44.6" text-anchor="middle" letter-spacing="0.5" stroke="#000" stroke-width="0.9" stroke-linejoin="round">**</text>
<line x1="823.6" y1="1468.8" x2="933.4" y2="1468.8" stroke="#000" stroke-width="2.6"/>
<text transform="translate(878.25,1474.36) scale(1,1)" font-size="44.6" text-anchor="middle" letter-spacing="0.5" stroke="#000" stroke-width="0.9" stroke-linejoin="round">***</text>
<line x1="823.6" y1="1522.8" x2="899" y2="1522.8" stroke="#000" stroke-width="2.6"/>
<text transform="translate(862.25,1529.06) scale(1,1)" font-size="44.6" text-anchor="middle" letter-spacing="0.5" stroke="#000" stroke-width="0.9" stroke-linejoin="round">***</text>
<line x1="866.9" y1="1861" x2="936.5" y2="1861" stroke="#000" stroke-width="2.6"/>
<text transform="translate(902.45,1899.66) scale(1,1)" font-size="44.6" text-anchor="middle" letter-spacing="0.5" stroke="#000" stroke-width="0.9" stroke-linejoin="round">***</text>
<rect x="973.9" y="1383.9" width="55" height="27" fill="#000"/>
<text transform="translate(1059.5,1410.9) scale(1,1.04)" font-size="42">NOR</text>
<rect x="973.9" y="1453.8" width="55" height="27" fill="#a09fa4"/>
<text transform="translate(1059.5,1480.8) scale(1,1.04)" font-size="42">FDM</text>
<rect x="974.2" y="1523.2" width="54.4" height="27.4" fill="#fff" stroke="#000" stroke-width="2.4" rx="1.5"/>
<text transform="translate(1059.5,1550.4) scale(1,1.04)" font-size="42">LIM</text>
</g>
<g>
<text transform="translate(1200.7,1397.9) scale(1,1.04)" font-size="102" font-weight="bold">H</text>
<rect x="1348.4" y="1623.2" width="29.2" height="59.3" fill="#000"/>
<rect x="1348.4" y="1724" width="29.2" height="188.5" fill="#000"/>
<rect x="1391.9" y="1621.4" width="30" height="61.1" fill="#a09fa4"/>
<rect x="1391.9" y="1724" width="30" height="188.5" fill="#a09fa4"/>
<path d="M1437.65 1682.5V1623.45H1466.55V1682.5 M1437.65 1724V1912.5 M1466.55 1724V1912.5" fill="none" stroke="#000" stroke-width="2.9"/>
<path d="M1363 1618.7V1627M1359 1618.7h8M1359 1627h8" stroke="#000" stroke-width="2.8" fill="none"/>
<path d="M1406.9 1616.5V1625.4M1402.9 1616.5h8M1402.9 1625.4h8" stroke="#000" stroke-width="2.8" fill="none"/>
<path d="M1452.1 1618.5V1627M1448.1 1618.5h8M1448.1 1627h8" stroke="#000" stroke-width="2.8" fill="none"/>
<rect x="1525.6" y="1611.6" width="29.2" height="70.9" fill="#000"/>
<rect x="1525.6" y="1724" width="29.2" height="188.5" fill="#000"/>
<rect x="1569.1" y="1590.6" width="30" height="91.9" fill="#a09fa4"/>
<rect x="1569.1" y="1724" width="30" height="188.5" fill="#a09fa4"/>
<path d="M1614.85 1682.5V1603.05H1643.75V1682.5 M1614.85 1724V1912.5 M1643.75 1724V1912.5" fill="none" stroke="#000" stroke-width="2.9"/>
<path d="M1540.2 1602.7V1620M1536.2 1602.7h8M1536.2 1620h8" stroke="#000" stroke-width="2.8" fill="none"/>
<path d="M1584.1 1582.1V1599M1580.1 1582.1h8M1580.1 1599h8" stroke="#000" stroke-width="2.8" fill="none"/>
<path d="M1629.3 1599V1606.2M1625.3 1599h8M1625.3 1606.2h8" stroke="#000" stroke-width="2.8" fill="none"/>
<rect x="1702.8" y="1600.9" width="29.2" height="81.6" fill="#000"/>
<rect x="1702.8" y="1724" width="29.2" height="188.5" fill="#000"/>
<rect x="1746.3" y="1575.9" width="30" height="106.6" fill="#a09fa4"/>
<rect x="1746.3" y="1724" width="30" height="188.5" fill="#a09fa4"/>
<path d="M1792.05 1682.5V1585.45H1820.95V1682.5 M1792.05 1724V1912.5 M1820.95 1724V1912.5" fill="none" stroke="#000" stroke-width="2.9"/>
<path d="M1717.4 1596.4V1605M1713.4 1596.4h8M1713.4 1605h8" stroke="#000" stroke-width="2.8" fill="none"/>
<path d="M1761.3 1568.3V1583M1757.3 1568.3h8M1757.3 1583h8" stroke="#000" stroke-width="2.8" fill="none"/>
<path d="M1806.5 1579.9V1589.7M1802.5 1579.9h8M1802.5 1589.7h8" stroke="#000" stroke-width="2.8" fill="none"/>
<rect x="1880" y="1597.7" width="29.2" height="84.8" fill="#000"/>
<rect x="1880" y="1724" width="29.2" height="188.5" fill="#000"/>
<rect x="1923.5" y="1567.4" width="30" height="115.1" fill="#a09fa4"/>
<rect x="1923.5" y="1724" width="30" height="188.5" fill="#a09fa4"/>
<path d="M1969.25 1682.5V1577.95H1998.15V1682.5 M1969.25 1724V1912.5 M1998.15 1724V1912.5" fill="none" stroke="#000" stroke-width="2.9"/>
<path d="M1894.6 1593.7V1601M1890.6 1593.7h8M1890.6 1601h8" stroke="#000" stroke-width="2.8" fill="none"/>
<path d="M1938.5 1556.7V1577.2M1934.5 1556.7h8M1934.5 1577.2h8" stroke="#000" stroke-width="2.8" fill="none"/>
<path d="M1983.7 1570V1583.9M1979.7 1570h8M1979.7 1583.9h8" stroke="#000" stroke-width="2.8" fill="none"/>
<path d="M1324.7 1449.85V1684.5 M1324.7 1722V1912.5H2015.7" stroke="#000" stroke-width="5.5" fill="none"/>
<line x1="1311.5" y1="1672.4" x2="1338.6" y2="1698.9" stroke="#000" stroke-width="4.8"/>
<line x1="1311.5" y1="1708.1" x2="1338.6" y2="1734.6" stroke="#000" stroke-width="4.8"/>
<line x1="1324.7" y1="1452.6" x2="1340.2" y2="1452.6" stroke="#000" stroke-width="5.5"/>
<text transform="translate(1302.3,1468.35) scale(1,1.04)" font-size="44" text-anchor="end">9</text>
<line x1="1324.7" y1="1567.4" x2="1340.2" y2="1567.4" stroke="#000" stroke-width="5.5"/>
<text transform="translate(1302.3,1583.15) scale(1,1.04)" font-size="44" text-anchor="end">8</text>
<text transform="translate(1302.3,1698.25) scale(1,1.04)" font-size="44" text-anchor="end">7</text>
<text transform="translate(1302.3,1739.75) scale(1,1.04)" font-size="44" text-anchor="end">6</text>
<line x1="1324.7" y1="1818.2" x2="1340.2" y2="1818.2" stroke="#000" stroke-width="5.5"/>
<text transform="translate(1302.3,1833.95) scale(1,1.04)" font-size="44" text-anchor="end">3</text>
<text transform="translate(1302.3,1928.15) scale(1,1.04)" font-size="44" text-anchor="end">0</text>
<line x1="1406.9" y1="1912.5" x2="1406.9" y2="1896.1" stroke="#000" stroke-width="5.5"/>
<text transform="translate(1406.9,1960.8) scale(1.04,1.04)" font-size="44" text-anchor="middle">0w</text>
<line x1="1584.1" y1="1912.5" x2="1584.1" y2="1896.1" stroke="#000" stroke-width="5.5"/>
<text transform="translate(1584.1,1960.8) scale(1.04,1.04)" font-size="44" text-anchor="middle">2w</text>
<line x1="1761.3" y1="1912.5" x2="1761.3" y2="1896.1" stroke="#000" stroke-width="5.5"/>
<text transform="translate(1761.3,1960.8) scale(1.04,1.04)" font-size="44" text-anchor="middle">4w</text>
<line x1="1938.5" y1="1912.5" x2="1938.5" y2="1896.1" stroke="#000" stroke-width="5.5"/>
<text transform="translate(1938.5,1960.8) scale(1.04,1.04)" font-size="44" text-anchor="middle">6w</text>
<text transform="translate(1243.3,1681.9) rotate(-90) scale(1,1.04)" font-size="44.05" text-anchor="middle" font-weight="bold">Axial length (mm)</text>
<line x1="1564.4" y1="1436.2" x2="1634.3" y2="1436.2" stroke="#000" stroke-width="3.1"/>
<text transform="translate(1604.55,1444.36) scale(1,1)" font-size="44.6" text-anchor="middle" letter-spacing="0.5" stroke="#000" stroke-width="0.9" stroke-linejoin="round">***</text>
<line x1="1520.2" y1="1485" x2="1637.1" y2="1485" stroke="#000" stroke-width="3.1"/>
<text transform="translate(1580.75,1489.66) scale(1,1)" font-size="44.6" text-anchor="middle" letter-spacing="0.5" stroke="#000" stroke-width="0.9" stroke-linejoin="round">**</text>
<line x1="1520.2" y1="1542" x2="1600.6" y2="1542" stroke="#000" stroke-width="3.1"/>
<text transform="translate(1572.55,1548.96) scale(1,1)" font-size="44.6" text-anchor="middle" letter-spacing="0.5" stroke="#000" stroke-width="0.9" stroke-linejoin="round">***</text>
<line x1="1744.3" y1="1432.2" x2="1814.8" y2="1432.2" stroke="#000" stroke-width="3.1"/>
<text transform="translate(1784.25,1440.36) scale(1,1)" font-size="44.6" text-anchor="middle" letter-spacing="0.5" stroke="#000" stroke-width="0.9" stroke-linejoin="round">***</text>
<line x1="1700.6" y1="1485" x2="1817.1" y2="1485" stroke="#000" stroke-width="3.1"/>
<text transform="translate(1758.35,1490.16) scale(1,1)" font-size="44.6" text-anchor="middle" letter-spacing="0.5" stroke="#000" stroke-width="0.9" stroke-linejoin="round">***</text>
<line x1="1700.6" y1="1542" x2="1780" y2="1542" stroke="#000" stroke-width="3.1"/>
<text transform="translate(1742.35,1547.36) scale(1,1)" font-size="44.6" text-anchor="middle" letter-spacing="0.5" stroke="#000" stroke-width="0.9" stroke-linejoin="round">***</text>
<line x1="1926" y1="1433.8" x2="1996.9" y2="1433.8" stroke="#000" stroke-width="3.1"/>
<text transform="translate(1966.85,1442.36) scale(1,1)" font-size="44.6" text-anchor="middle" letter-spacing="0.5" stroke="#000" stroke-width="0.9" stroke-linejoin="round">***</text>
<line x1="1880.9" y1="1483.3" x2="1996.9" y2="1483.3" stroke="#000" stroke-width="3.1"/>
<text transform="translate(1939.15,1490.16) scale(1,1)" font-size="44.6" text-anchor="middle" letter-spacing="0.5" stroke="#000" stroke-width="0.9" stroke-linejoin="round">***</text>
<line x1="1880.9" y1="1540.2" x2="1960.3" y2="1540.2" stroke="#000" stroke-width="3.1"/>
<text transform="translate(1919.95,1545.36) scale(1,1)" font-size="44.6" text-anchor="middle" letter-spacing="0.5" stroke="#000" stroke-width="0.9" stroke-linejoin="round">***</text>
<rect x="2038.9" y="1388" width="58" height="28.5" fill="#000"/>
<text transform="translate(2129.4,1416.9) scale(1,1.04)" font-size="44">NOR</text>
<rect x="2038.9" y="1461.4" width="58" height="28.5" fill="#a09fa4"/>
<text transform="translate(2129.4,1490.3) scale(1,1.04)" font-size="44">FDM</text>
<rect x="2039.2" y="1534.4" width="57.4" height="28.9" fill="#fff" stroke="#000" stroke-width="2.4" rx="1.5"/>
<text transform="translate(2129.4,1563.5) scale(1,1.04)" font-size="44">LIM</text>
</g>
<g>
<text transform="translate(2290.1,1401) scale(1,1.04)" font-size="102" font-weight="bold">I</text>
<rect x="2410.4" y="1532.1" width="27.8" height="380.3" fill="#000"/>
<rect x="2452.8" y="1531.2" width="27.8" height="381.2" fill="#a09fa4"/>
<rect x="2496" y="1531.4" width="26.6" height="381.8" fill="#fff" stroke="#000" stroke-width="2.8"/>
<path d="M2424.3 1528.6V1535.6M2420.55 1528.6h7.5M2420.55 1535.6h7.5" stroke="#000" stroke-width="2.6" fill="none"/>
<path d="M2466.7 1527.7V1534.7M2462.95 1527.7h7.5M2462.95 1534.7h7.5" stroke="#000" stroke-width="2.6" fill="none"/>
<path d="M2509.3 1529V1533.4M2505.55 1529h7.5M2505.55 1533.4h7.5" stroke="#000" stroke-width="2.6" fill="none"/>
<rect x="2580" y="1514.7" width="27.8" height="397.7" fill="#000"/>
<rect x="2622.4" y="1515.6" width="27.8" height="396.8" fill="#a09fa4"/>
<rect x="2665.6" y="1517.2" width="26.6" height="396" fill="#fff" stroke="#000" stroke-width="2.8"/>
<path d="M2593.9 1511.7V1517.7M2590.15 1511.7h7.5M2590.15 1517.7h7.5" stroke="#000" stroke-width="2.6" fill="none"/>
<path d="M2636.3 1511.6V1519.6M2632.55 1511.6h7.5M2632.55 1519.6h7.5" stroke="#000" stroke-width="2.6" fill="none"/>
<path d="M2678.9 1514V1520M2675.15 1514h7.5M2675.15 1520h7.5" stroke="#000" stroke-width="2.6" fill="none"/>
<rect x="2749.3" y="1502.2" width="27.8" height="410.2" fill="#000"/>
<rect x="2791.7" y="1502.2" width="27.8" height="410.2" fill="#a09fa4"/>
<rect x="2834.9" y="1505.6" width="26.6" height="407.6" fill="#fff" stroke="#000" stroke-width="2.8"/>
<path d="M2763.2 1499.2V1505.2M2759.45 1499.2h7.5M2759.45 1505.2h7.5" stroke="#000" stroke-width="2.6" fill="none"/>
<path d="M2805.6 1497.2V1507.2M2801.85 1497.2h7.5M2801.85 1507.2h7.5" stroke="#000" stroke-width="2.6" fill="none"/>
<path d="M2848.2 1502.4V1508.4M2844.45 1502.4h7.5M2844.45 1508.4h7.5" stroke="#000" stroke-width="2.6" fill="none"/>
<rect x="2918.9" y="1500" width="27.8" height="412.4" fill="#000"/>
<rect x="2961.3" y="1500.4" width="27.8" height="412" fill="#a09fa4"/>
<rect x="3004.5" y="1502.9" width="26.6" height="410.3" fill="#fff" stroke="#000" stroke-width="2.8"/>
<path d="M2932.8 1497.5V1502.5M2929.05 1497.5h7.5M2929.05 1502.5h7.5" stroke="#000" stroke-width="2.6" fill="none"/>
<path d="M2975.2 1496.4V1504.4M2971.45 1496.4h7.5M2971.45 1504.4h7.5" stroke="#000" stroke-width="2.6" fill="none"/>
<path d="M3017.8 1500.2V1505.2M3014.05 1500.2h7.5M3014.05 1505.2h7.5" stroke="#000" stroke-width="2.6" fill="none"/>
<path d="M2388.6 1470.7V1912.4H3048.9" stroke="#000" stroke-width="5" fill="none" stroke-linejoin="miter"/>
<line x1="2388.6" y1="1473.2" x2="2403.6" y2="1473.2" stroke="#000" stroke-width="5"/>
<text transform="translate(2376,1488.24) scale(1,1.04)" font-size="42" text-anchor="end">4</text>
<line x1="2388.6" y1="1582.4" x2="2403.6" y2="1582.4" stroke="#000" stroke-width="5"/>
<text transform="translate(2376,1597.44) scale(1,1.04)" font-size="42" text-anchor="end">3</text>
<line x1="2388.6" y1="1692.4" x2="2403.6" y2="1692.4" stroke="#000" stroke-width="5"/>
<text transform="translate(2376,1707.44) scale(1,1.04)" font-size="42" text-anchor="end">2</text>
<line x1="2388.6" y1="1802.4" x2="2403.6" y2="1802.4" stroke="#000" stroke-width="5"/>
<text transform="translate(2376,1817.44) scale(1,1.04)" font-size="42" text-anchor="end">1</text>
<line x1="2388.6" y1="1912.4" x2="2403.6" y2="1912.4" stroke="#000" stroke-width="5"/>
<text transform="translate(2376,1927.44) scale(1,1.04)" font-size="42" text-anchor="end">0</text>
<line x1="2466.5" y1="1912.4" x2="2466.5" y2="1897.4" stroke="#000" stroke-width="5"/>
<text transform="translate(2466.5,1958.8) scale(1.03,1.04)" font-size="42" text-anchor="middle">0w</text>
<line x1="2636.1" y1="1912.4" x2="2636.1" y2="1897.4" stroke="#000" stroke-width="5"/>
<text transform="translate(2636.1,1958.8) scale(1.03,1.04)" font-size="42" text-anchor="middle">2w</text>
<line x1="2805.4" y1="1912.4" x2="2805.4" y2="1897.4" stroke="#000" stroke-width="5"/>
<text transform="translate(2805.4,1958.8) scale(1.03,1.04)" font-size="42" text-anchor="middle">4w</text>
<line x1="2975" y1="1912.4" x2="2975" y2="1897.4" stroke="#000" stroke-width="5"/>
<text transform="translate(2975,1958.8) scale(1.03,1.04)" font-size="42" text-anchor="middle">6w</text>
<text transform="translate(2316.4,1691.1) rotate(-90) scale(1,1.04)" font-size="43.05" text-anchor="middle" font-weight="bold">Corneal curvature (mm)</text>
<rect x="3065" y="1390.9" width="54.9" height="27.3" fill="#000"/>
<text transform="translate(3150.7,1419) scale(1,1.04)" font-size="42">NOR</text>
<rect x="3065" y="1461.5" width="54.9" height="27.3" fill="#a09fa4"/>
<text transform="translate(3150.7,1489.6) scale(1,1.04)" font-size="42">FDM</text>
<rect x="3065.3" y="1531.8" width="54.3" height="27.7" fill="#fff" stroke="#000" stroke-width="2.4" rx="1.5"/>
<text transform="translate(3150.7,1560.1) scale(1,1.04)" font-size="42">LIM</text>
</g>
</svg>
</body>
</html>
